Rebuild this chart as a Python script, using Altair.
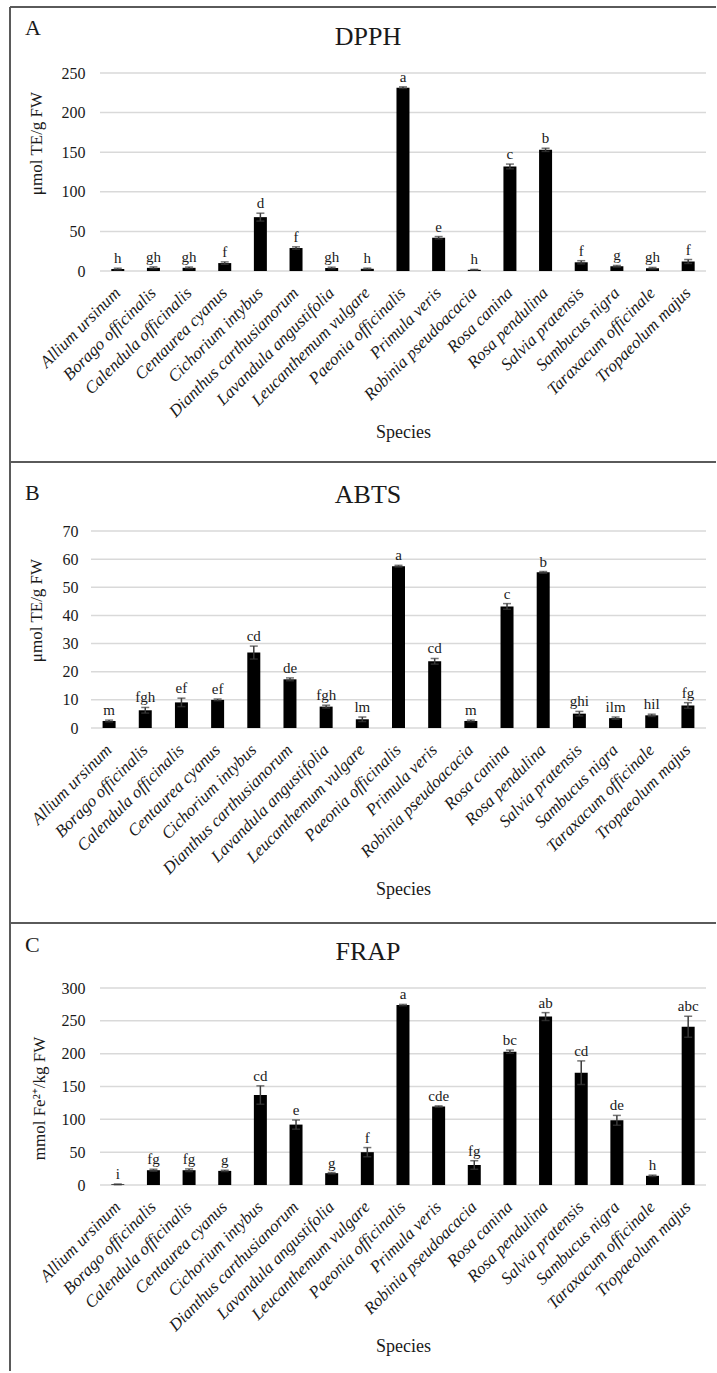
import altair as alt
import pandas as pd

SERIF = "Liberation Serif"
INK = "#1a1a1a"
BORDER = "#5a5a5a"
GRID = "#d9d9d9"
WHISKER = "#3a3a3a"

species = [
    "Allium ursinum", "Borago officinalis", "Calendula officinalis", "Centaurea cyanus",
    "Cichorium intybus", "Dianthus carthusianorum", "Lavandula angustifolia",
    "Leucanthemum vulgare", "Paeonia officinalis", "Primula veris", "Robinia pseudoacacia",
    "Rosa canina", "Rosa pendulina", "Salvia pratensis", "Sambucus nigra",
    "Taraxacum officinale", "Tropaeolum majus",
]

# DPPH (µmol TE/g FW)
dpph_mean = [2.5, 4, 4, 10, 68, 29, 3.8, 2.8, 231.5, 42, 1.5, 132, 153, 11, 6, 3.5, 12]
dpph_err = [1, 1.2, 1, 1.5, 5, 1.5, 1, 0.8, 1, 1.5, 0.5, 3, 2, 2, 1, 1, 2.5]
dpph_group = ["h", "gh", "gh", "f", "d", "f", "gh", "h", "a", "e", "h", "c", "b", "f", "g", "gh", "f"]
dpph_ticks = [0, 50, 100, 150, 200, 250]

# ABTS (µmol TE/g FW)
abts_mean = [2.5, 6.3, 9.1, 10, 26.8, 17.3, 7.6, 3.1, 57.5, 23.7, 2.5, 43.2, 55.3, 5.1, 3.5, 4.5, 8.0]
abts_err = [0.3, 1.0, 1.5, 0.3, 2.3, 0.5, 0.5, 0.8, 0.3, 1.0, 0.3, 1.0, 0.3, 0.8, 0.4, 0.4, 1.0]
abts_group = ["m", "fgh", "ef", "ef", "cd", "de", "fgh", "lm", "a", "cd", "m", "c", "b",
              "ghi", "ilm", "hil", "fg"]
abts_ticks = [0, 10, 20, 30, 40, 50, 60, 70]

# FRAP (mmol Fe2+/kg FW)
frap_mean = [1, 22.5, 22.5, 21.5, 137, 92, 18, 50, 274, 119.5, 30.5, 203, 256.5, 171, 98.5, 14, 241]
frap_err = [0.5, 1.5, 2, 1, 14, 7, 1, 7, 1, 1, 6.5, 2.5, 6, 18, 7.5, 1, 16]
frap_group = ["i", "fg", "fg", "g", "cd", "e", "g", "f", "a", "cde", "fg", "bc", "ab",
              "cd", "de", "h", "abc"]
frap_ticks = [0, 50, 100, 150, 200, 250, 300]

PLOT_W = 615


def panel(tag, name, means, errs, groups, ticks, ytitle, height, shifted,
          y_label_pad, y_title_x, y_title_y, tag_y, box_top, box_bottom, top_line, bottom_line):
    df = pd.DataFrame({"species": species, "mean": means, "err": errs, "group": groups})
    df["low"] = df["mean"] - df["err"]
    df["high"] = df["mean"] + df["err"]

    if shifted:
        xscale = alt.Scale(paddingInner=0, paddingOuter=0.1256, align=1)
        grid_x0 = 9
    else:
        xscale = alt.Scale(paddingInner=0, paddingOuter=0)
        grid_x0 = 0
    yscale = alt.Scale(domain=[0, ticks[-1]], nice=False, zero=True)

    x_axis = alt.Axis(
        title="Species", labelAngle=-45, labelAlign="right", labelBaseline="middle",
        labelPadding=19, labelFont=SERIF, labelFontStyle="italic", labelFontSize=17,
        labelColor=INK, labelLimit=400, labelOverlap=False, ticks=False, domain=False,
        grid=False, titleFont=SERIF, titleFontSize=18, titleFontWeight="normal",
        titleColor=INK, titleX=312, titleY=161, titleBaseline="middle", titleAlign="center",
    )
    y_axis = alt.Axis(
        title=ytitle, values=ticks, grid=False, ticks=False, domain=False,
        labelPadding=y_label_pad, labelFont=SERIF, labelFontSize=16, labelColor=INK,
        titleFont=SERIF, titleFontSize=17, titleFontWeight="normal", titleColor=INK,
        titleX=y_title_x, titleY=y_title_y, titleBaseline="middle", titleAlign="center",
    )

    def xq():
        return alt.X("species:N", sort=species, scale=xscale, axis=x_axis)

    def yq(field):
        return alt.Y(field, scale=yscale, axis=y_axis)

    # horizontal gridlines at the tick values
    grid = alt.Chart(pd.DataFrame({"tick": ticks})).mark_rule(
        color=GRID, strokeWidth=1.5
    ).encode(y=yq("tick:Q"), x=alt.value(grid_x0), x2=alt.value(PLOT_W))

    base = alt.Chart(df)
    bars = base.mark_bar(color="black", width=13).encode(x=xq(), y=yq("mean:Q"))
    whisk = base.mark_rule(color=WHISKER, strokeWidth=1.5).encode(
        x=xq(), y=yq("low:Q"), y2="high:Q"
    )
    cap_hi = base.mark_tick(color=WHISKER, thickness=1.5, size=8).encode(x=xq(), y=yq("high:Q"))
    cap_lo = base.mark_tick(color=WHISKER, thickness=1.5, size=8).encode(x=xq(), y=yq("low:Q"))
    letters = base.mark_text(
        font=SERIF, fontSize=15, baseline="alphabetic", dy=-5, color=INK
    ).encode(x=xq(), y=yq("high:Q"), text="group:N")

    one = pd.DataFrame({"label": [tag], "name": [name]})
    tag_text = alt.Chart(one).mark_text(
        font=SERIF, fontSize=22, align="left", baseline="middle", color=INK
    ).encode(text="label:N", x=alt.value(-66), y=alt.value(tag_y))
    title_text = alt.Chart(one).mark_text(
        font=SERIF, fontSize=26, align="center", baseline="middle", color=INK
    ).encode(text="name:N", x=alt.value(277), y=alt.value(-36))

    frame = [
        alt.Chart(one).mark_rule(color=BORDER, strokeWidth=2).encode(
            x=alt.value(-81), y=alt.value(box_top), y2=alt.value(box_bottom)
        )
    ]
    if top_line:
        frame.append(alt.Chart(one).mark_rule(color=BORDER, strokeWidth=2).encode(
            x=alt.value(-81), x2=alt.value(625), y=alt.value(box_top)))
    if bottom_line:
        frame.append(alt.Chart(one).mark_rule(color=BORDER, strokeWidth=2).encode(
            x=alt.value(-81), x2=alt.value(625), y=alt.value(box_bottom)))

    return alt.layer(
        grid, bars, whisk, cap_hi, cap_lo, letters, tag_text, title_text, *frame
    ).properties(width=PLOT_W, height=height)


dpph = panel("A", "DPPH", dpph_mean, dpph_err, dpph_group, dpph_ticks, "μmol TE/g FW",
             198, True, 6, -55, 70, -45, -66, 389, True, True)
abts = panel("B", "ABTS", abts_mean, abts_err, abts_group, abts_ticks, "μmol TE/g FW",
             197, False, 13, -55, 79, -38, -69, 392, False, True)
frap = panel("C", "FRAP", frap_mean, frap_err, frap_group, frap_ticks, "mmol Fe²⁺/kg FW",
             197, True, 6, -52, 110, -43, -65, 383, False, False)

chart = alt.vconcat(dpph, abts, frap, spacing=260, bounds="flush").properties(
    padding={"left": 9, "top": 6, "right": 0, "bottom": 0},
    background="white",
).configure_view(stroke=None)

chart.save("out.html", embed_options={"renderer": "svg", "actions": False})
